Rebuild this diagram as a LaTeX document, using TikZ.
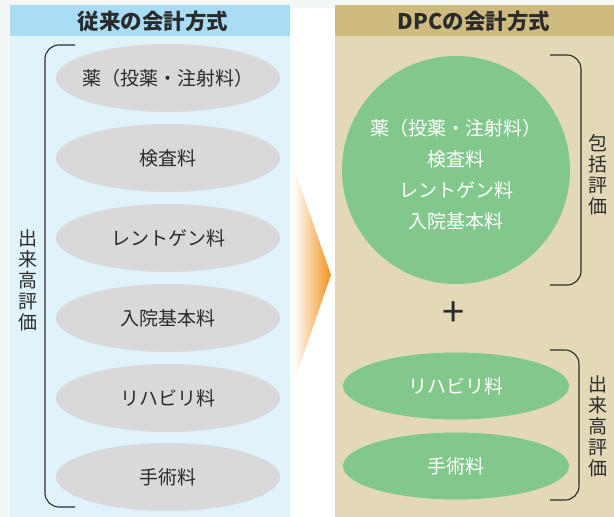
\documentclass[tikz,border=0pt]{standalone}
\usepackage{fontspec}
\setmainfont{Noto Sans CJK JP}
\definecolor{bglight}{HTML}{F2F7F5}
\definecolor{lhead}{HTML}{A9DCF5}
\definecolor{lbody}{HTML}{E0F2FA}
\definecolor{grayell}{HTML}{D9D9DB}
\definecolor{rhead}{HTML}{CFBB80}
\definecolor{rbody}{HTML}{E3D9B7}
\definecolor{greenfill}{HTML}{82C88C}
\definecolor{ink}{HTML}{2B2B2B}
\definecolor{arroworange}{HTML}{F3921E}
\usetikzlibrary{shapes.geometric}
\tikzset{
  headtxt/.style={font=\fontsize{21.5}{23}\selectfont\bfseries, text=ink},
  grayellipse/.style={ellipse, fill=grayell, minimum width=224pt, minimum height=68pt, inner sep=0pt,
     font=\fontsize{19}{21}\selectfont, text=ink},
  greenellipse/.style={ellipse, fill=greenfill, minimum width=226pt, minimum height=67pt, inner sep=0pt,
     font=\fontsize{19}{21}\selectfont, text=white},
  vtext/.style={align=center, font=\fontsize{19}{21}\selectfont, text=ink, inner sep=0pt},
  bracket/.style={draw=ink, line width=1.1pt, rounded corners=14pt}
}
\begin{document}
\begin{tikzpicture}[x=1pt,y=-1pt]
\useasboundingbox (0,0) rectangle (614,517);
\fill[bglight] (0,0) rectangle (614,517);
\fill[white] (290,8) rectangle (335,517);
% left panel
\fill[lbody] (10,5) rectangle (290,517);
\fill[lhead] (10,5) rectangle (290,36);
\node[headtxt] (lh) at (153,21) {従来の会計方式};
% right panel
\fill[rbody] (335,5) rectangle (614,517);
\fill[rhead] (335,5) rectangle (614,36);
\node[headtxt] (rh) at (474,21) {DPCの会計方式};
% left ellipses
\node[grayellipse] (l1) at (168,78) {\makebox[0pt]{薬（投薬・注射料）}};
\node[grayellipse] (l2) at (168,158) {検査料};
\node[grayellipse] (l3) at (168,238) {\makebox[0pt]{レントゲン料}};
\node[grayellipse] (l4) at (168,318) {\makebox[0pt]{入院基本料}};
\node[grayellipse] (l5) at (168,398) {\makebox[0pt]{リハビリ料}};
\node[grayellipse] (l6) at (168,477) {手術料};
% left bracket
\coordinate (lb1) at (75,45);
\coordinate (lb2) at (75,507);
\draw[bracket] (lb1) -- (45,45) -- (45,507) -- (lb2);
\node[vtext] (lv) at (28,280) {出\\来\\高\\評\\価};
% arrow
\shade[left color=white, right color=arroworange] (293,165) -- (331,275) -- (293,385) -- cycle;
% circle
\node[circle, fill=greenfill, minimum size=228pt, inner sep=0pt] (c) at (456,170) {};
\node[align=center, font=\fontsize{19}{31}\selectfont, text=white] (ct) at (456,175)
  {薬（投薬・注射料）\\検査料\\レントゲン料\\入院基本料};
% bracket 1
\coordinate (rb1) at (550,55);
\coordinate (rb2) at (550,285);
\draw[bracket] (rb1) -- (581,55) -- (581,285) -- (rb2);
\node[vtext] (rv1) at (598,175) {包\\括\\評\\価};
% plus
\node[font=\fontsize{40}{40}\selectfont, text=ink, inner sep=0pt] (plus) at (454,314) {+};
% green ellipses
\node[greenellipse] (g1) at (456,386) {\makebox[0pt]{リハビリ料}};
\node[greenellipse] (g2) at (456,466) {手術料};
% bracket 2
\coordinate (rb3) at (550,350);
\coordinate (rb4) at (550,500);
\draw[bracket] (rb3) -- (579,350) -- (579,500) -- (rb4);
\node[vtext] (rv2) at (598,426) {出\\来\\高\\評\\価};
\end{tikzpicture}
\end{document}
